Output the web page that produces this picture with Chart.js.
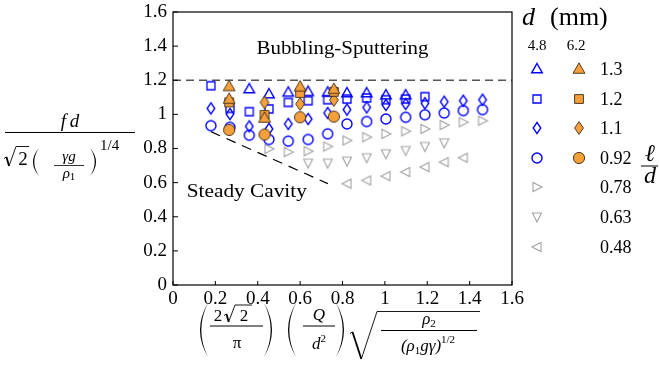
<!DOCTYPE html>
<html>
<head>
<meta charset="utf-8">
<script src="https://cdn.jsdelivr.net/npm/chart.js@4.4.0/dist/chart.umd.min.js"></script>
<style>html,body{margin:0;padding:0;background:#fff}</style>
</head>
<body>
<canvas id="chart" width="659" height="367"></canvas>
<script>
// d = 4.8 mm (blue, open markers)
const blue13_x = [0.360, 0.453, 0.544, 0.638, 0.730, 0.821, 0.914, 1.005, 1.098];
const blue13_y = [1.149, 1.119, 1.129, 1.133, 1.129, 1.125, 1.125, 1.113, 1.113];
const blue12_x = [0.179, 0.269, 0.360, 0.453, 0.544, 0.638, 0.730, 0.821, 0.914, 1.005, 1.098, 1.189];
const blue12_y = [1.168, 1.035, 1.016, 1.032, 1.070, 1.080, 1.086, 1.090, 1.096, 1.086, 1.090, 1.104];
const blue11_x = [0.179, 0.269, 0.360, 0.453, 0.544, 0.638, 0.730, 0.821, 0.914, 1.005, 1.098, 1.189, 1.280, 1.370, 1.461];
const blue11_y = [1.035, 1.002, 0.930, 0.915, 0.944, 0.973, 1.008, 1.028, 1.041, 1.055, 1.061, 1.065, 1.074, 1.080, 1.086];
const blue092_x = [0.179, 0.269, 0.360, 0.453, 0.544, 0.638, 0.730, 0.821, 0.914, 1.005, 1.098, 1.189, 1.280, 1.370, 1.461];
const blue092_y = [0.934, 0.924, 0.878, 0.853, 0.843, 0.853, 0.886, 0.944, 0.958, 0.973, 0.983, 0.998, 1.008, 1.022, 1.028];
// grey, short lengths
const grey078_x = [0.453, 0.544, 0.638, 0.730, 0.821, 0.914, 1.005, 1.098, 1.189, 1.280, 1.370, 1.461];
const grey078_y = [0.798, 0.779, 0.784, 0.812, 0.847, 0.866, 0.886, 0.901, 0.915, 0.938, 0.954, 0.963];
const grey063_x = [0.638, 0.730, 0.821, 0.914, 1.005, 1.098, 1.189, 1.280];
const grey063_y = [0.714, 0.714, 0.726, 0.746, 0.769, 0.788, 0.812, 0.833];
const grey048_x = [0.821, 0.914, 1.005, 1.098, 1.189, 1.280, 1.370];
const grey048_y = [0.594, 0.613, 0.638, 0.662, 0.691, 0.720, 0.746];
// d = 6.2 mm (orange, filled markers)
const or13_x = [0.265, 0.265, 0.432, 0.600, 0.759];
const or13_y = [1.164, 1.090, 0.979, 1.162, 1.148];
const or12_x = [0.265, 0.432, 0.600, 0.759];
const or12_y = [1.070, 0.997, 1.125, 1.132];
const or11_x = [0.432, 0.600, 0.759];
const or11_y = [1.070, 1.061, 1.084];
const or092_x = [0.265, 0.432, 0.600, 0.759];
const or092_y = [0.909, 0.882, 0.983, 0.987];
// regime boundaries
const bubble_x = [0, 1.6];
const bubble_y = [1.2, 1.2];
const steady_x = [0.179, 0.731];
const steady_y = [0.899, 0.594];

const legendLabels = ['1.3', '1.2', '1.1', '0.92', '0.78', '0.63', '0.48'];

const SERIF = '"Liberation Serif", "DejaVu Serif", serif';
const BLUE = '#0000ff', GREY = '#a3a3a3', ORANGE = '#f6a03c', EDGE = '#3b2a14';

function pts(xs, ys) { return xs.map((v, i) => ({x: v, y: ys[i]})); }

function marker(shape, stroke, fill, lw, k) {
  const c = document.createElement('canvas');
  c.width = 18; c.height = 18;
  const g = c.getContext('2d');
  g.translate(9, 9);
  g.scale(k, k);
  g.beginPath();
  if (shape === 'up') { g.moveTo(0, -5.5); g.lineTo(5.3, 3.8); g.lineTo(-5.3, 3.8); g.closePath(); }
  if (shape === 'square') { g.rect(-4, -4, 8, 8); }
  if (shape === 'diamond') { g.moveTo(0, -5.6); g.lineTo(3.8, 0); g.lineTo(0, 5.6); g.lineTo(-3.8, 0); g.closePath(); }
  if (shape === 'circle') { g.arc(0, 0, 5, 0, Math.PI * 2); }
  if (shape === 'right') { g.moveTo(5, 0); g.lineTo(-4, -4.5); g.lineTo(-4, 4.5); g.closePath(); }
  if (shape === 'down') { g.moveTo(0, 5); g.lineTo(-4.5, -4); g.lineTo(4.5, -4); g.closePath(); }
  if (shape === 'left') { g.moveTo(-5, 0); g.lineTo(4, -4.5); g.lineTo(4, 4.5); g.closePath(); }
  if (fill) { g.fillStyle = fill; g.fill(); }
  g.lineWidth = lw / k; g.strokeStyle = stroke; g.stroke();
  return c;
}

const mk = {
  b13: marker('up', BLUE, null, 1.4, 1), b12: marker('square', BLUE, null, 1.3, 1),
  b11: marker('diamond', BLUE, null, 1.4, 1), b092: marker('circle', BLUE, null, 1.4, 1),
  g078: marker('right', GREY, null, 1.1, 1), g063: marker('down', GREY, null, 1.1, 1),
  g048: marker('left', GREY, null, 1.1, 1),
  o13: marker('up', EDGE, ORANGE, 0.9, 1.12), o12: marker('square', EDGE, ORANGE, 0.9, 1.1),
  o11: marker('diamond', EDGE, ORANGE, 0.9, 1.15), o092: marker('circle', EDGE, ORANGE, 0.9, 1.12)
};

function ds(data, style) {
  return { data: data, pointStyle: style, pointRadius: 6, pointHoverRadius: 6, showLine: false };
}

function txt(ctx, s, x, y, font, align) {
  ctx.font = font; ctx.textAlign = align || 'left'; ctx.textBaseline = 'alphabetic';
  ctx.fillText(s, x, y);
}
// text stretched horizontally to a target width
function fitTxt(ctx, s, x, y, font, width, align) {
  ctx.font = font; ctx.textAlign = 'left'; ctx.textBaseline = 'alphabetic';
  const w = ctx.measureText(s).width, sx = width / w;
  const x0 = align === 'center' ? x - width / 2 : x;
  ctx.save(); ctx.translate(x0, y); ctx.scale(sx, 1); ctx.fillText(s, 0, 0); ctx.restore();
}
// run of [text, font, dy] pieces, centred on x
function runs(ctx, parts, x, y) {
  ctx.textAlign = 'left'; ctx.textBaseline = 'alphabetic';
  let total = 0;
  parts.forEach(p => { ctx.font = p[1]; total += ctx.measureText(p[0]).width; });
  let cx = x - total / 2;
  parts.forEach(p => { ctx.font = p[1]; ctx.fillText(p[0], cx, y + (p[2] || 0)); cx += ctx.measureText(p[0]).width; });
}
function hline(ctx, x1, x2, y, lw) {
  ctx.lineWidth = lw || 1; ctx.beginPath(); ctx.moveTo(x1, y); ctx.lineTo(x2, y); ctx.stroke();
}
function paren(ctx, xl, xr, top, bot, left) {
  const mid = (top + bot) / 2, t = 1.3;
  ctx.beginPath();
  if (left) {
    ctx.moveTo(xr, top);
    ctx.quadraticCurveTo(2 * xl - xr, mid, xr, bot);
    ctx.quadraticCurveTo(2 * (xl + t) - xr, mid, xr, top);
  } else {
    ctx.moveTo(xl, top);
    ctx.quadraticCurveTo(2 * xr - xl, mid, xl, bot);
    ctx.quadraticCurveTo(2 * (xr - t) - xl, mid, xl, top);
  }
  ctx.fill();
}
function radical(ctx, x0, yMid, yBot, xTop, yTop, xEnd) {
  const xb = x0 + (xTop - x0) * 0.42;
  ctx.lineWidth = 0.9;
  ctx.beginPath(); ctx.moveTo(x0, yMid + 1.5); ctx.lineTo(x0 + 2.5, yMid); ctx.stroke();
  ctx.lineWidth = 1.8;
  ctx.beginPath(); ctx.moveTo(x0 + 2.5, yMid); ctx.lineTo(xb, yBot); ctx.stroke();
  ctx.lineWidth = 0.9;
  ctx.beginPath(); ctx.moveTo(xb, yBot); ctx.lineTo(xTop, yTop); ctx.lineTo(xEnd, yTop); ctx.stroke();
}

const decor = {
  id: 'decor',
  afterDraw(chart) {
    const {ctx, chartArea: a, scales: {x, y}} = chart;
    ctx.save();
    ctx.fillStyle = '#000'; ctx.strokeStyle = '#000';
    // frame and inward ticks
    ctx.lineWidth = 1.2;
    ctx.strokeRect(a.left, a.top, a.right - a.left, a.bottom - a.top);
    ctx.lineWidth = 1;
    x.ticks.forEach(t => {
      const p = x.getPixelForValue(t.value);
      ctx.beginPath(); ctx.moveTo(p, a.bottom); ctx.lineTo(p, a.bottom - 4); ctx.stroke();
    });
    y.ticks.forEach(t => {
      const p = y.getPixelForValue(t.value);
      ctx.beginPath(); ctx.moveTo(a.left, p); ctx.lineTo(a.left + 5, p); ctx.stroke();
    });

    // regime labels
    fitTxt(ctx, 'Bubbling-Sputtering', x.getPixelForValue(0.80), y.getPixelForValue(1.355), '18px ' + SERIF, 172, 'center');
    fitTxt(ctx, 'Steady Cavity', x.getPixelForValue(0.065), y.getPixelForValue(0.514), '18px ' + SERIF, 120, 'left');

    // y-axis title: fd / (sqrt2 (gamma g / rho1)^(1/4))
    runs(ctx, [['f', 'italic 19px ' + SERIF], ['\u2009d', 'italic 19px ' + SERIF]], 70, 127);
    hline(ctx, 5, 135, 132.5, 1);
    radical(ctx, 4, 157, 166, 16, 146.5, 29);
    txt(ctx, '2', 23, 165, '19px ' + SERIF, 'center');
    paren(ctx, 33, 39, 148, 176, true);
    runs(ctx, [['\u03b3g', 'italic 15px ' + SERIF]], 69, 161);
    hline(ctx, 54, 84, 165.5, 0.8);
    runs(ctx, [['\u03c1', 'italic 15px ' + SERIF], ['1', '11px ' + SERIF, 2]], 69, 178);
    paren(ctx, 90, 96, 148, 176, false);
    txt(ctx, '1/4', 100, 150, '15px ' + SERIF, 'left');

    // x-axis title
    paren(ctx, 200, 208, 303, 357, true);
    txt(ctx, '2', 218, 321, '17px ' + SERIF, 'center');
    radical(ctx, 224, 314, 322, 235, 305, 252);
    txt(ctx, '2', 244, 321, '17px ' + SERIF, 'center');
    hline(ctx, 210, 263, 326, 1);
    txt(ctx, '\u03c0', 237, 348, '17px ' + SERIF, 'center');
    paren(ctx, 264, 272, 303, 357, false);
    paren(ctx, 288, 296, 303, 357, true);
    txt(ctx, 'Q', 319, 320, 'italic 17px ' + SERIF, 'center');
    hline(ctx, 303, 335, 326, 1);
    runs(ctx, [['d', 'italic 17px ' + SERIF], ['2', '11px ' + SERIF, -7]], 319, 349);
    paren(ctx, 336, 344, 303, 357, false);
    radical(ctx, 350, 332, 359, 377, 311.5, 480);
    runs(ctx, [['\u03c1', 'italic 17px ' + SERIF], ['2', '11px ' + SERIF, 3]], 429, 324);
    hline(ctx, 381, 477, 330.5, 1);
    runs(ctx, [['(\u03c1', 'italic 17px ' + SERIF], ['1', '11px ' + SERIF, 3], ['g\u03b3)', 'italic 17px ' + SERIF],
               ['1/2', '11px ' + SERIF, -8]], 428, 351);

    // legend
    txt(ctx, 'd', 522, 25, 'italic 26px ' + SERIF, 'left');
    txt(ctx, '(mm)', 550, 25, '26px ' + SERIF, 'left');
    txt(ctx, '4.8', 537, 50, '15px ' + SERIF, 'center');
    txt(ctx, '6.2', 576, 50, '15px ' + SERIF, 'center');
    const rows = [[mk.b13, mk.o13], [mk.b12, mk.o12], [mk.b11, mk.o11], [mk.b092, mk.o092],
                  [mk.g078, null], [mk.g063, null], [mk.g048, null]];
    rows.forEach((r, i) => {
      const yy = Math.round(69 + i * 29.6);
      ctx.drawImage(r[0], 537 - 9, yy - 9);
      if (r[1]) ctx.drawImage(r[1], 579 - 9, yy - 9);
      txt(ctx, legendLabels[i], 600, yy + 6, '18px ' + SERIF, 'left');
    });
    txt(ctx, '\u2113', 650, 161, 'italic 24px ' + SERIF, 'center');
    hline(ctx, 641, 658, 166, 1);
    txt(ctx, 'd', 650, 183, 'italic 24px ' + SERIF, 'center');
    ctx.restore();
  }
};

new Chart(document.getElementById('chart'), {
  type: 'scatter',
  data: {
    datasets: [
      ds(pts(or13_x, or13_y), mk.o13), ds(pts(or12_x, or12_y), mk.o12),
      ds(pts(or11_x, or11_y), mk.o11), ds(pts(or092_x, or092_y), mk.o092),
      ds(pts(blue13_x, blue13_y), mk.b13), ds(pts(blue12_x, blue12_y), mk.b12),
      ds(pts(blue11_x, blue11_y), mk.b11), ds(pts(blue092_x, blue092_y), mk.b092),
      ds(pts(grey078_x, grey078_y), mk.g078), ds(pts(grey063_x, grey063_y), mk.g063),
      ds(pts(grey048_x, grey048_y), mk.g048),
      { data: pts(bubble_x, bubble_y), showLine: true, pointRadius: 0, borderColor: '#555',
        borderWidth: 1.4, borderDash: [8, 5] },
      { data: pts(steady_x, steady_y), showLine: true, pointRadius: 0, borderColor: '#000',
        borderWidth: 1.2, borderDash: [10, 7] }
    ]
  },
  options: {
    responsive: false,
    animation: false,
    events: [],
    layout: { padding: { top: 12, right: 147, left: 0, bottom: 0 } },
    plugins: { legend: { display: false }, tooltip: { enabled: false } },
    scales: {
      x: {
        min: 0, max: 1.6,
        grid: { display: false, drawTicks: false },
        border: { display: false },
        ticks: { stepSize: 0.2, padding: 3, color: '#000', font: { family: SERIF, size: 19 },
                 maxRotation: 0, callback: v => +v.toFixed(1) },
        afterFit: s => { s.height = 82; s.paddingLeft = 0; s.paddingRight = 0; }
      },
      y: {
        min: 0, max: 1.6,
        grid: { display: false, drawTicks: false },
        border: { display: false },
        ticks: { stepSize: 0.2, padding: 6, color: '#000', font: { family: SERIF, size: 19 },
                 callback: v => +v.toFixed(1) },
        afterFit: s => { s.width = 173; s.paddingTop = 0; s.paddingBottom = 0; }
      }
    }
  },
  plugins: [decor]
});
</script>
</body>
</html>
